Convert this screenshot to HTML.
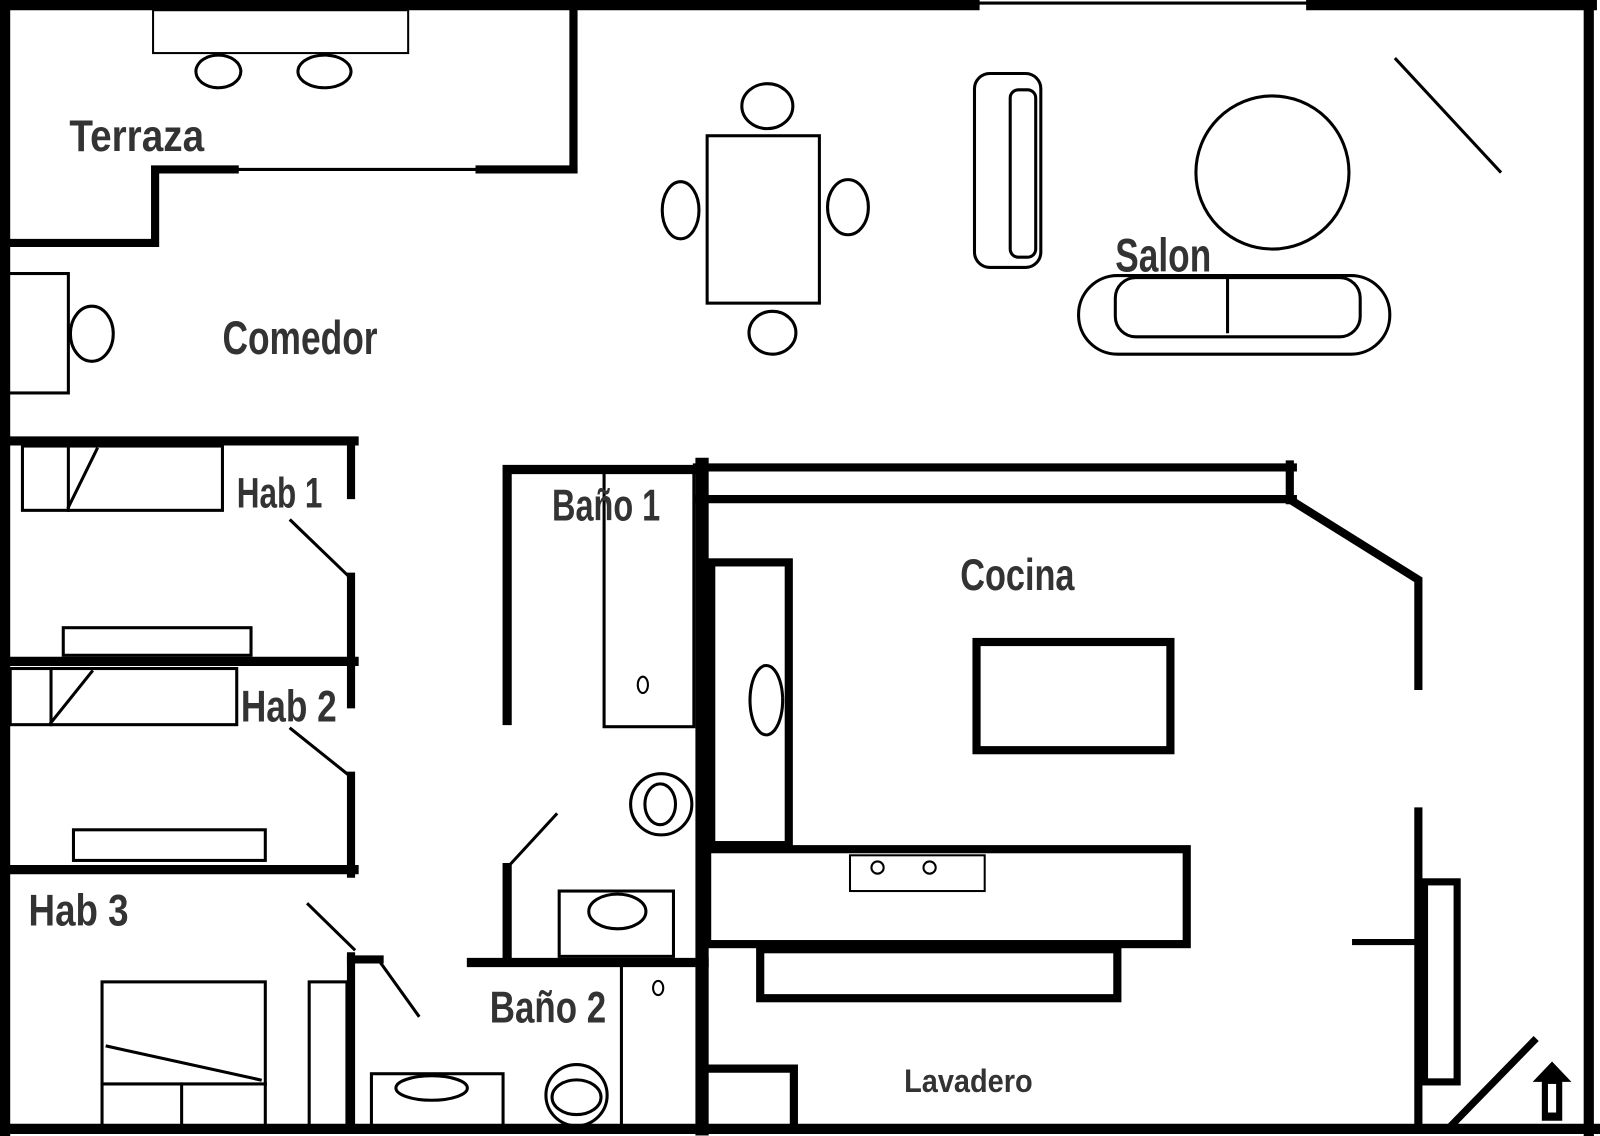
<!DOCTYPE html>
<html><head><meta charset="utf-8"><style>
html,body{margin:0;padding:0;background:#fff}
svg{display:block}
text{font-family:"Liberation Sans Narrow","Liberation Sans",sans-serif;fill:#333;font-weight:bold}
</style></head><body>
<svg width="1600" height="1136" viewBox="0 0 1568 1113" preserveAspectRatio="none" xmlns="http://www.w3.org/2000/svg">
<rect width="1568" height="1113" fill="#fff"/>
<g stroke="#000" fill="none" stroke-linecap="square">
<!-- outer walls -->
<line x1="0" y1="5" x2="955" y2="5" stroke-width="10"/>
<line x1="955" y1="3" x2="1285" y2="3" stroke-width="3"/>
<line x1="1285" y1="5" x2="1560" y2="5" stroke-width="10"/>
<line x1="5" y1="0" x2="5" y2="1113" stroke-width="10"/>
<line x1="1557" y1="0" x2="1557" y2="1113" stroke-width="10"/>
<line x1="0" y1="1106" x2="1568" y2="1106" stroke-width="10"/>
<!-- terraza -->
<line x1="562" y1="0" x2="562" y2="166" stroke-width="8"/>
<line x1="470" y1="166" x2="562" y2="166" stroke-width="8"/>
<line x1="230" y1="166" x2="470" y2="166" stroke-width="3"/>
<polyline points="230,166 152,166 152,238 0,238" stroke-width="8"/>
<rect x="150" y="10" width="250" height="42" stroke-width="2"/>
<ellipse cx="214" cy="70" rx="22" ry="16" stroke-width="3" stroke-dasharray="6 2"/>
<ellipse cx="318" cy="70" rx="26" ry="16" stroke-width="3" stroke-dasharray="6 2"/>
<!-- comedor -->
<rect x="8" y="268" width="59" height="117" stroke-width="3"/>
<ellipse cx="90" cy="327" rx="21" ry="27" stroke-width="3"/>
<rect x="693" y="133" width="110" height="164" stroke-width="3"/>
<ellipse cx="752" cy="104" rx="25" ry="22" stroke-width="3"/>
<ellipse cx="757" cy="326" rx="23" ry="21" stroke-width="3"/>
<ellipse cx="667" cy="206" rx="18" ry="28" stroke-width="3"/>
<ellipse cx="831" cy="203" rx="20" ry="27" stroke-width="3"/>
<!-- salon -->
<rect x="955" y="72" width="65" height="190" rx="15" stroke-width="3"/>
<rect x="990" y="88" width="25" height="164" rx="8" stroke-width="3"/>
<circle cx="1247" cy="169" r="75" stroke-width="3"/>
<line x1="1368" y1="58" x2="1470" y2="168" stroke-width="3"/>
<rect x="1057" y="270" width="305" height="77" rx="38" stroke-width="3"/>
<rect x="1093" y="272" width="240" height="58" rx="20" stroke-width="3"/>
<line x1="1203" y1="272" x2="1203" y2="325" stroke-width="3"/>
<!-- hab 1 -->
<line x1="0" y1="432" x2="347" y2="432" stroke-width="9"/>
<line x1="344" y1="432" x2="344" y2="485" stroke-width="8"/>
<line x1="344" y1="565" x2="344" y2="647" stroke-width="8"/>
<line x1="285" y1="510" x2="340" y2="563" stroke-width="3"/>
<rect x="22" y="437" width="196" height="63" stroke-width="3"/>
<line x1="67" y1="437" x2="67" y2="500" stroke-width="3"/>
<line x1="67" y1="497" x2="95" y2="440" stroke-width="3"/>
<rect x="62" y="615" width="184" height="27" stroke-width="3"/>
<line x1="0" y1="648" x2="347" y2="648" stroke-width="9"/>
<!-- hab 2 -->
<rect x="10" y="655" width="222" height="55" stroke-width="3"/>
<line x1="50" y1="655" x2="50" y2="710" stroke-width="3"/>
<line x1="50" y1="708" x2="90" y2="658" stroke-width="3"/>
<line x1="344" y1="648" x2="344" y2="690" stroke-width="8"/>
<line x1="344" y1="760" x2="344" y2="856" stroke-width="8"/>
<line x1="285" y1="714" x2="340" y2="758" stroke-width="3"/>
<rect x="72" y="813" width="188" height="30" stroke-width="3"/>
<line x1="0" y1="852" x2="347" y2="852" stroke-width="9"/>
<!-- hab 3 -->
<line x1="302" y1="886" x2="347" y2="930" stroke-width="3"/>
<line x1="344" y1="937" x2="344" y2="1106" stroke-width="8"/>
<line x1="344" y1="940" x2="372" y2="940" stroke-width="8"/>
<line x1="372" y1="942" x2="410" y2="995" stroke-width="3"/>
<rect x="100" y="962" width="160" height="143" stroke-width="3"/>
<line x1="105" y1="1025" x2="255" y2="1058" stroke-width="3"/>
<line x1="100" y1="1062" x2="260" y2="1062" stroke-width="3"/>
<line x1="178" y1="1062" x2="178" y2="1105" stroke-width="3"/>
<rect x="303" y="962" width="37" height="143" stroke-width="3"/>
<!-- baño 1 -->
<polyline points="497,706 497,460 682,460" stroke-width="9"/>
<rect x="592" y="462" width="88" height="250" stroke-width="3"/>
<ellipse cx="630" cy="671" rx="5" ry="8" stroke-width="2"/>
<circle cx="648" cy="788" r="30" stroke-width="3"/>
<ellipse cx="647" cy="788" rx="15" ry="20" stroke-width="3"/>
<line x1="499" y1="848" x2="545" y2="798" stroke-width="3"/>
<line x1="497" y1="850" x2="497" y2="940" stroke-width="9"/>
<line x1="462" y1="943" x2="690" y2="943" stroke-width="9"/>
<rect x="548" y="873" width="112" height="64" stroke-width="3"/>
<ellipse cx="605" cy="893" rx="28" ry="17" stroke-width="3"/>
<!-- baño 2 -->
<line x1="609" y1="945" x2="609" y2="1105" stroke-width="3"/>
<ellipse cx="645" cy="968" rx="5" ry="7" stroke-width="2"/>
<circle cx="565" cy="1073" r="30" stroke-width="3"/>
<ellipse cx="565" cy="1075" rx="24" ry="17" stroke-width="3"/>
<rect x="364" y="1052" width="129" height="53" stroke-width="3"/>
<ellipse cx="423" cy="1066" rx="35" ry="12" stroke-width="3"/>
<!-- cocina -->
<line x1="688" y1="455" x2="688" y2="1106" stroke-width="13"/>
<line x1="683" y1="458" x2="1267" y2="458" stroke-width="8"/>
<line x1="683" y1="489" x2="1267" y2="489" stroke-width="8"/>
<line x1="1264" y1="455" x2="1264" y2="490" stroke-width="8"/>
<polyline points="1265,490 1390,568 1390,672" stroke-width="8"/>
<rect x="697" y="551" width="76" height="277" stroke-width="8"/>
<ellipse cx="751" cy="686" rx="16" ry="34" stroke-width="3" stroke-dasharray="6 2"/>
<rect x="957" y="629" width="190" height="106" stroke-width="8"/>
<rect x="693" y="832" width="470" height="93" stroke-width="8"/>
<rect x="833" y="838" width="132" height="35" stroke-width="2"/>
<circle cx="860" cy="850" r="6" stroke-width="2"/>
<circle cx="911" cy="850" r="6" stroke-width="2"/>
<rect x="745" y="930" width="350" height="48" stroke-width="8"/>
<!-- lavadero -->
<polyline points="692,1047 778,1047 778,1106" stroke-width="8"/>
<line x1="1390" y1="795" x2="1390" y2="1106" stroke-width="8"/>
<line x1="1328" y1="923" x2="1390" y2="923" stroke-width="6"/>
<rect x="1396" y="864" width="32" height="196" stroke-width="7"/>
<line x1="1422" y1="1103" x2="1503" y2="1020" stroke-width="7"/>
</g>
<!-- arrow icon -->
<polygon points="1521,1040 1540,1060 1531,1060 1531,1098 1511,1098 1511,1060 1502,1060" fill="#000"/>
<rect x="1517" y="1062" width="8" height="28" fill="#fff"/>
<!-- labels -->
<text x="68" y="148" font-size="44" textLength="132" lengthAdjust="spacingAndGlyphs">Terraza</text>
<text x="218" y="347" font-size="46" textLength="152" lengthAdjust="spacingAndGlyphs">Comedor</text>
<text x="1093" y="266" font-size="46" textLength="94" lengthAdjust="spacingAndGlyphs">Salon</text>
<text x="232" y="497" font-size="42" textLength="84" lengthAdjust="spacingAndGlyphs">Hab 1</text>
<text x="541" y="510" font-size="44" textLength="106" lengthAdjust="spacingAndGlyphs">Baño 1</text>
<text x="941" y="578" font-size="44" textLength="112" lengthAdjust="spacingAndGlyphs">Cocina</text>
<text x="236" y="707" font-size="44" textLength="94" lengthAdjust="spacingAndGlyphs">Hab 2</text>
<text x="28" y="907" font-size="44" textLength="98" lengthAdjust="spacingAndGlyphs">Hab 3</text>
<text x="480" y="1002" font-size="44" textLength="114" lengthAdjust="spacingAndGlyphs">Baño 2</text>
<text x="886" y="1070" font-size="32" textLength="126" lengthAdjust="spacingAndGlyphs">Lavadero</text>
</svg>
</body></html>
